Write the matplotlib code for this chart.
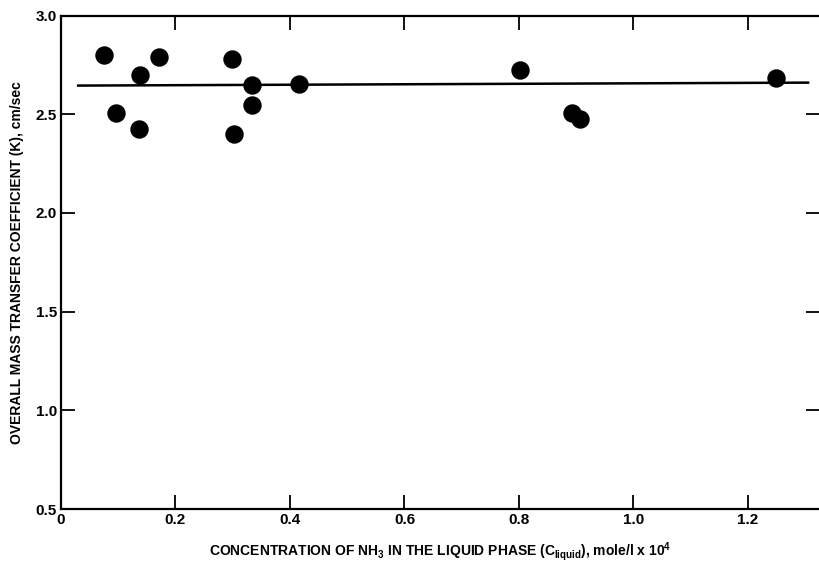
import matplotlib.pyplot as plt

plt.rcParams['font.family'] = ['Liberation Sans Narrow', 'Liberation Sans', 'DejaVu Sans']
plt.rcParams['font.weight'] = 'bold'
plt.rcParams['axes.labelweight'] = 'bold'
plt.rcParams['mathtext.default'] = 'regular'

# measured points
conc = [0.075, 0.096, 0.138, 0.137, 0.171, 0.299, 0.303, 0.333, 0.333, 0.416,
        0.802, 0.893, 0.907, 1.249]
k_coef = [2.80, 2.505, 2.70, 2.425, 2.79, 2.78, 2.40, 2.647, 2.546, 2.652,
          2.723, 2.505, 2.475, 2.683]

# fitted (average) line
line_x = [0.03, 1.305]
line_y = [2.645, 2.66]

xticks = [0, 0.2, 0.4, 0.6, 0.8, 1.0, 1.2]
xtick_labels = ['0', '0.2', '0.4', '0.6', '0.8', '1.0', '1.2']
yticks = [0.5, 1.0, 1.5, 2.0, 2.5, 3.0]
ytick_labels = ['0.5', '1.0', '1.5', '2.0', '2.5', '3.0']

fig = plt.figure(figsize=(8.2, 5.64), dpi=100)
ax = fig.add_axes([0.0744, 0.0975, 0.925, 0.875])

ax.plot(line_x, line_y, color='black', lw=1.8, zorder=2)
ax.scatter(conc, k_coef, s=150, color='black', zorder=3)

ax.set_xlim(0, 1.325)
ax.set_ylim(0.5, 3.0)
ax.set_xticks(xticks)
ax.set_xticklabels(xtick_labels)
ax.set_yticks(yticks)
ax.set_yticklabels(ytick_labels)
ax.tick_params(direction='in', length=10, width=1.3, labelsize=11, pad=3,
               top=True, right=True)
ax.spines['right'].set_visible(False)
for s in ['left', 'bottom', 'top']:
    ax.spines[s].set_linewidth(1.6)

ax.set_xlabel(r'CONCENTRATION OF NH$_3$ IN THE LIQUID PHASE (C$_{liquid}$), mole/l x 10$^4$',
              fontsize=10, labelpad=9)
ax.set_ylabel('OVERALL MASS TRANSFER COEFFICIENT (K), cm/sec', fontsize=10, labelpad=8)

fig.savefig('out.png', dpi=100)
